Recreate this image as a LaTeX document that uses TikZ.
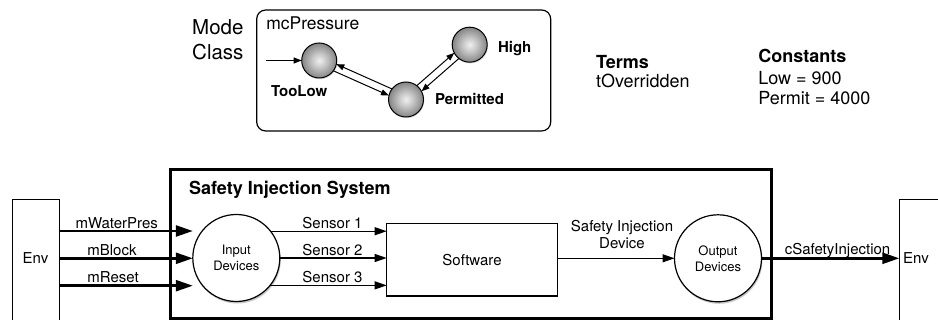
\documentclass[tikz,border=0pt]{standalone}
\usepackage{fontspec}
\setmainfont{TeX Gyre Heros}
\usetikzlibrary{arrows.meta,shadows}
\pgfdeclareradialshading{stateball}{\pgfpoint{0bp}{0bp}}{color(0bp)=(white!94!black); color(10bp)=(white!78!black); color(25bp)=(white!52!black); color(50bp)=(white!52!black)}
\begin{document}
\begin{tikzpicture}[x=1pt,y=-1pt,
  every node/.style={inner sep=0pt, outer sep=0pt},
  lbl/.style={font=\fontsize{15}{18}\selectfont, anchor=base},
  toptxt/.style={font=\fontsize{18}{20}\selectfont, anchor=base west},
  tophead/.style={font=\bfseries\fontsize{18}{20}\selectfont, anchor=base west},
  stlbl/.style={font=\bfseries\fontsize{15}{18}\selectfont},
  envbox/.style={draw, line width=1.2pt, rectangle, anchor=north west, minimum height=200pt},
  dev/.style={circle, draw, line width=1.2pt, fill=white, minimum size=87pt, align=center,
    font=\fontsize{13}{16}\selectfont,
    drop shadow={fill=black, opacity=0.22, shadow xshift=1pt, shadow yshift=-2pt}},
  swbox/.style={draw, line width=1.2pt, fill=white, rectangle, font=\fontsize{15}{18}\selectfont,
    drop shadow={fill=black, opacity=0.2, shadow xshift=1pt, shadow yshift=-1.5pt}},
  state/.style={circle, draw, line width=1pt, minimum size=35pt, shade, shading=stateball,
    drop shadow={fill=black, opacity=0.15, shadow xshift=0.8pt, shadow yshift=-1.2pt}},
  bigarrow/.style={line width=2.5pt, -{Triangle[length=17pt,width=11pt]}},
  arr/.style={line width=1.1pt, -{Triangle[length=12pt,width=8pt]}},
  sarr/.style={line width=1pt, -{Triangle[length=8pt,width=6pt]}}]
\useasboundingbox (0,0) rectangle (938,320);
\clip (0,0) rectangle (938,320);

% ---------- top: mode class ----------
\node[font=\fontsize{20.5}{25}\selectfont, align=center, anchor=east] (modeclass) at (243.5,39.8) {Mode\\Class};
\node[draw, line width=1.2pt, rounded corners=9pt, anchor=north west,
      minimum width=294pt, minimum height=121pt] (mc) at (256.7,10) {};
\node[font=\fontsize{17.5}{20}\selectfont, anchor=base west] (mct) at (266.3,30) {mcPressure};

\node[state] (tl) at (319.2,60.5) {};
\node[state] (pm) at (406,99.5) {};
\node[state] (hi) at (469.7,44.7) {};

\coordinate (init) at (265.7,0);
\draw[sarr] (init |- tl.west) -- (tl.west);
\draw[sarr] (pm.143.8) -- (tl.-12.2);
\draw[sarr] (tl.-36.2) -- (pm.167.8);
\draw[sarr] (pm.52.7) -- (hi.208.7);
\draw[sarr] (hi.232.7) -- (pm.28.7);

\node[stlbl, anchor=base] (ltl) at (299.2,96.7) {TooLow};
\node[stlbl, anchor=base west] (lpm) at (435,105) {Permitted};
\node[stlbl, anchor=base west] (lhi) at (498,52.5) {High};

\node[tophead] (termsh) at (596,68.2) {Terms};
\node[toptxt] (termsb) at (596,88) {tOverridden};
\node[tophead] (consth) at (758.3,63) {Constants};
\node[toptxt] (constl) at (758.3,84.3) {Low = 900};
\node[toptxt] (constp) at (758.3,104.5) {Permit = 4000};

% ---------- bottom: system ----------
\node[envbox, minimum width=46.6pt] (envL) at (12.7,199.3) {};
\node[lbl] (envLt) at (35.5,264) {Env};
\node[envbox, minimum width=80pt] (envR) at (899.3,199.3) {};
\node[lbl] (envRt) at (916,264) {Env};

\node[draw, line width=2.6pt, anchor=north west, minimum width=601pt, minimum height=149pt] (sis) at (170.7,169.3) {};
\node[font=\bfseries\fontsize{18}{21}\selectfont, anchor=base west] (sist) at (189,195) {Safety Injection System};

\node[dev] (in) at (236.3,258) {Input\\Devices};
\node[swbox, minimum width=170.6pt, minimum height=72.7pt] (sw) at (472,259.65) {Software};
\node[dev] (out) at (718,258.3) {Output\\Devices};

\coordinate (r1) at (0,231);
\coordinate (r2) at (0,258.3);
\coordinate (r3) at (0,285.7);

\draw[bigarrow] (envL.east |- r1) -- (in.west |- r1);
\draw[bigarrow] (envL.east |- r2) -- (in.west |- r2);
\draw[bigarrow] (envL.east |- r3) -- (in.west |- r3);
\node[lbl] (lwp) at (116.7,228.3) {mWaterPres};
\node[lbl] (lmb) at (112,255.5) {mBlock};
\node[lbl] (lmr) at (113,282.7) {mReset};

\draw[arr] (in.38.4) -- (sw.west |- in.38.4);
\draw[arr] (in.east) -- (sw.west |- in.east);
\draw[arr] (in.-39.6) -- (sw.west |- in.-39.6);
\node[lbl] (ls1) at (332.5,228.3) {Sensor 1};
\node[lbl] (ls2) at (332.5,255.5) {Sensor 2};
\node[lbl] (ls3) at (332.5,282.7) {Sensor 3};

\draw[arr] (sw.east |- out.west) -- (out.west);
\node[font=\fontsize{15}{17.6}\selectfont, align=center] (lsid) at (622,234.4) {Safety Injection\\Device};

\draw[bigarrow] (out.east) -- (envR.west |- out.east);
\node[lbl] (lcsi) at (837.5,254.5) {cSafetyInjection};
\end{tikzpicture}
\end{document}
